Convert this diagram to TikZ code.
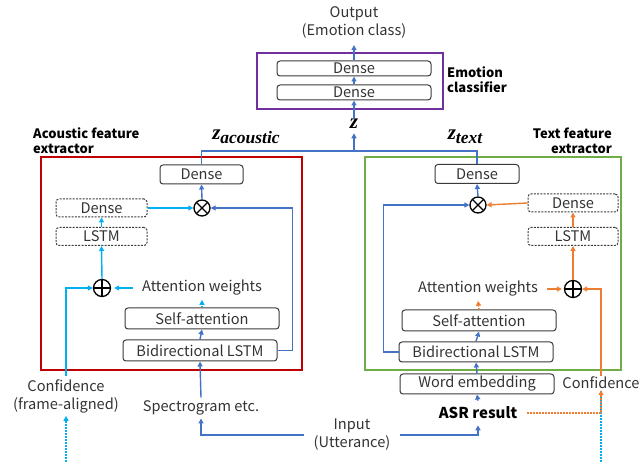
\documentclass[tikz,border=0pt]{standalone}
\usepackage{fontspec}
\setmainfont{Noto Sans CJK JP}
\newfontfamily\zfont{Liberation Serif}
\usetikzlibrary{arrows.meta}
\definecolor{cblue}{HTML}{4472C4}
\definecolor{lblue}{HTML}{00B0F0}
\definecolor{corange}{HTML}{ED7D31}
\definecolor{cred}{HTML}{C00000}
\definecolor{cgreen}{HTML}{70AD47}
\definecolor{cpurple}{HTML}{7030A0}
\definecolor{txt}{HTML}{333333}
\definecolor{boxc}{HTML}{3A3A3A}
\newcommand{\zsym}[1]{{\zfont\bfseries\itshape\fontsize{21}{21}\selectfont z\raisebox{-4.5pt}{\fontsize{17.5}{17.5}\selectfont #1}}}
\begin{document}
\begin{tikzpicture}[x=1pt,y=-1pt,
  every node/.style={text=txt, font=\fontsize{14.6}{18}\selectfont, inner sep=0pt},
  box/.style={draw=boxc, line width=1pt, rounded corners=3pt, minimum width=#1, minimum height=19pt},
  box/.default=154pt,
  dbox/.style={box=#1, dash pattern=on 2pt off 1.3pt},
  bhead/.style={text=black, font=\bfseries\fontsize{13}{15}\selectfont},
  zlab/.style={text=black},
  frame/.style={line width=1.5pt},
  ar/.style={-{Triangle[length=5pt,width=5pt]}, line width=1.4pt},
  bl/.style={ar, draw=cblue},
  cy/.style={ar, draw=lblue},
  orr/.style={ar, draw=corange},
  dots/.style={dash pattern=on 1.5pt off 1.5pt},
  mult/.style={circle, draw=black, line width=1.3pt, minimum size=16pt, inner sep=0pt,
    path picture={\draw[line width=1.3pt] (path picture bounding box.north west) -- (path picture bounding box.south east)
      (path picture bounding box.north east) -- (path picture bounding box.south west);}},
  addn/.style={circle, draw=black, line width=1.3pt, minimum size=17pt, inner sep=0pt,
    path picture={\draw[line width=1.3pt] (path picture bounding box.north) -- (path picture bounding box.south)
      (path picture bounding box.east) -- (path picture bounding box.west);}}
]
\useasboundingbox (0,0) rectangle (641,462);

% ---------- emotion classifier ----------
\node[align=center] (out) at (354,22) {Output\\(Emotion class)};
\coordinate (outtip) at (354,45);
\node[draw=cpurple, frame, minimum width=186pt, minimum height=56pt] (ec) at (350,81) {};
\node[box=154pt, minimum height=15pt] (pd1) at (354,68.5) {Dense};
\node[box=154pt, minimum height=15pt] (pd2) at (354,92.5) {Dense};
\node[bhead, align=left, anchor=west] (ecl) at (447,80) {Emotion\\classifier};
\node[zlab] (z) at (354,126) {\zsym{}};
\coordinate (zj) at (354,151);
\node[zlab] (zac) at (246,137) {\zsym{acoustic}};
\node[zlab] (ztx) at (465,137) {\zsym{text}};

% ---------- extractor frames ----------
\node[bhead, align=left, anchor=west] (acl) at (33,140.5) {Acoustic feature\\extractor};
\node[bhead, align=right, anchor=east] (txl) at (612,140.5) {Text feature\\extractor};
\node[draw=cred, frame, minimum width=261pt, minimum height=213pt] (red) at (171.5,263.5) {};
\node[draw=cgreen, frame, minimum width=256pt, minimum height=213pt] (green) at (493,263.5) {};

% ---------- acoustic side ----------
\node[box=83pt] (ld) at (201.5,174.5) {Dense};
\node[mult] (lx) at (202,208) {};
\node[dbox=91pt, minimum height=18pt] (ldd) at (101.5,208) {Dense};
\node[dbox=91pt, minimum height=18pt] (ll) at (101.5,236.5) {LSTM};
\node[addn] (lp) at (102,288) {};
\node[inner xsep=9pt, inner ysep=4pt] (law) at (202,288) {Attention weights};
\node[box=154pt, minimum height=21pt] (lsa) at (202,318.5) {Self-attention};
\node[box=154pt, minimum height=21pt] (lbi) at (200,350.5) {Bidirectional LSTM};
\node[align=center, inner ysep=3pt] (lconf) at (66,396) {Confidence\\(frame-aligned)};
\node[inner ysep=3pt] (spec) at (201,408) {Spectrogram etc.};
\node[align=center, inner xsep=10pt] (inp) at (352,435) {Input\\(Utterance)};
\coordinate (lb) at (66,462);

% ---------- text side ----------
\node[bhead, font=\bfseries\fontsize{15}{15}\selectfont, inner xsep=10pt, inner ysep=6pt] (asr) at (478,413) {ASR result};
\node[box=154pt, minimum height=20pt] (we) at (477,384) {Word embedding};
\node[box=154pt, minimum height=20pt] (rbi) at (476,352) {Bidirectional LSTM};
\node[box=154pt, minimum height=21pt] (rsa) at (479,320.5) {Self-attention};
\node[inner xsep=9pt, inner ysep=4pt] (raw) at (478,289) {Attention weights};
\node[addn] (rp) at (573,289) {};
\node[dbox=90pt, minimum height=18pt] (rl) at (573,236.5) {LSTM};
\node[dbox=90pt, minimum height=18pt] (rdd) at (573,203) {Dense};
\node[mult] (rx) at (478,205) {};
\node[box=84pt] (rd) at (477,174) {Dense};
\node[inner ysep=1pt] (rconf) at (601,383) {Confidence};
\coordinate (rb) at (601,462);

% ---------- connectors: top ----------
\draw[bl] (pd1.north) -- (outtip);
\draw[bl] (pd2.north) -- (pd1.south);
\draw[bl] (z.north) -- (pd2.south);
\draw[bl] (zj) -- (z.south);
\draw[cblue, line width=1.4pt] (ld.north) |- (zj) -| (rd.north);

% ---------- connectors: acoustic ----------
\draw[bl] (lx.north) -- (ld.south);
\draw[cy] (ldd.east) -- (lx.west);
\draw[cy] (ll.north) -- (ldd.south);
\draw[cy] (lp.north) -- (ll.south);
\draw[cy, shorten >=3pt] (law.west) -- (lp.east);
\draw[cy, dots] (lsa.north) -- (law.south);
\draw[bl] (lbi.north) -- (lsa.south);
\draw[bl] (lbi.east) -- ++(15,0) |- (lx.east);
\draw[bl] (spec.north) -- (lbi.south);
\draw[bl] (inp.west) -| (spec.south);
\draw[cy] (lconf.north) |- (lp.west);
\draw[cy, dots] (lb) -- (lconf.south);

% ---------- connectors: text ----------
\draw[bl] (inp.east) -| (asr.south);
\draw[bl] (asr.north) -- (we.south);
\draw[bl] (we.north) -- (rbi.south);
\draw[bl] (rbi.north) -- (rsa.south);
\draw[orr, dots] (rsa.north) -- (raw.south);
\draw[orr, shorten >=2pt] (raw.east) -- (rp.west);
\draw[orr] (rp.north) -- (rl.south);
\draw[orr] (rl.north) -- (rdd.south);
\draw[orr] (rdd.west) -- (rx.east);
\draw[bl] (rx.north) -- (rd.south);
\draw[bl] (rbi.west) -- ++(-15,0) |- (rx.west);
\draw[lblue, line width=1.4pt, dots] (rb) -- (rconf.south);
\draw[orr] (rconf.north) |- (rp.east);
\draw[orr, dots] (asr.east) -| (rconf.south);
\end{tikzpicture}
\end{document}
